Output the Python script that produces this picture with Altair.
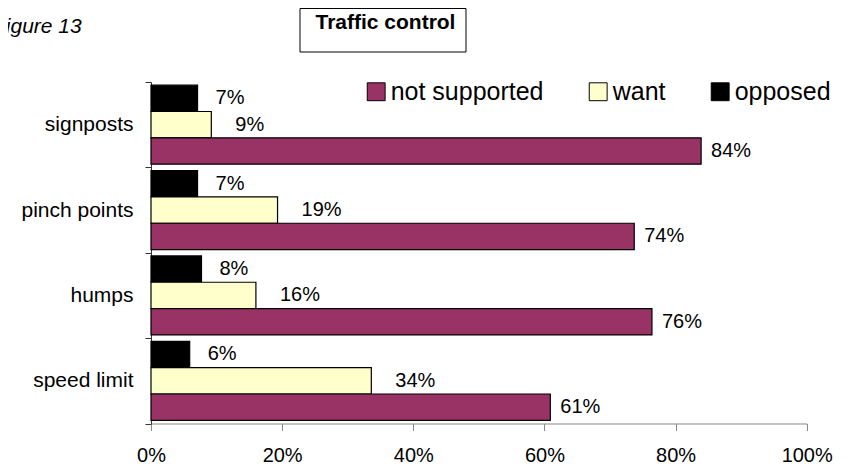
import altair as alt
import pandas as pd

categories = ["signposts", "pinch points", "humps", "speed limit"]
series = ["opposed", "want", "not supported"]
opposed = [7.1, 7.1, 7.7, 5.9]
want = [9.2, 19.3, 16.0, 33.6]
not_supported = [83.9, 73.7, 76.4, 60.9]
x_ticks = [0, 20, 40, 60, 80, 100]
legend_order = ["not supported", "want", "opposed"]
colors = ["#993366", "#FFFFCC", "#000000"]
title_text = "Traffic control"
figure_text = "Figure 13"

rows = []
for i, c in enumerate(categories):
    for s, vals in zip(series, [opposed, want, not_supported]):
        rows.append({"category": c, "series": s, "value": vals[i]})
df = pd.DataFrame(rows)

FONT = "Liberation Sans"

y_enc = alt.Y(
    "category:N",
    sort=categories,
    scale=alt.Scale(paddingInner=0, paddingOuter=0),
    axis=alt.Axis(
        title=None, tickBand="extent", ticks=True, tickSize=6,
        labelFontSize=21, labelPadding=12, labelFont=FONT, labelColor="black",
        domainColor="#333333", tickColor="#333333",
    ),
)
yoff = alt.YOffset("series:N", sort=series,
                   scale=alt.Scale(paddingInner=0, paddingOuter=0.12))
x_enc = alt.X(
    "value:Q",
    scale=alt.Scale(domain=[0, 100], nice=False, zero=True),
    axis=alt.Axis(
        title=None, values=x_ticks, labelExpr="datum.value + '%'",
        tickSize=7, labelPadding=15, labelFontSize=20, labelFont=FONT,
        labelColor="black", grid=False, labelFlush=False,
        domainColor="#888888", tickColor="#888888",
    ),
)

bars = alt.Chart(df).mark_bar(stroke="black", strokeWidth=1.2).encode(
    x=x_enc,
    y=y_enc,
    yOffset=yoff,
    color=alt.Color(
        "series:N",
        scale=alt.Scale(domain=legend_order, range=colors),
        legend=alt.Legend(
            orient="none", legendX=212.7, legendY=-3, direction="horizontal",
            title=None, symbolType="square", symbolSize=320,
            symbolStrokeColor="black", symbolStrokeWidth=1, symbolOpacity=1,
            labelFontSize=25, labelFont=FONT, labelColor="black",
            labelOffset=2, columnPadding=42, padding=0,
        ),
    ),
)

label_dx = {"opposed": 18, "want": 24, "not supported": 10}
label_layers = []
for s in series:
    lay = alt.Chart(df).transform_filter(
        alt.datum.series == s
    ).transform_calculate(
        label="format(datum.value, '.0f') + '%'"
    ).mark_text(
        align="left", baseline="middle", dx=label_dx[s], fontSize=20,
        font=FONT, color="black",
    ).encode(
        x=alt.X("value:Q"),
        y=alt.Y("category:N", sort=categories),
        yOffset=alt.YOffset("series:N", sort=series),
        text="label:N",
    )
    label_layers.append(lay)

deco = pd.DataFrame({"t": [title_text], "f": [figure_text]})
box = alt.Chart(deco).mark_rect(fill="white", stroke="black", strokeWidth=1).encode(
    x=alt.value(149), x2=alt.value(315), y=alt.value(-73.5), y2=alt.value(-30)
)
title = alt.Chart(deco).mark_text(
    fontSize=21, fontWeight="bold", font=FONT, align="center",
    baseline="alphabetic", color="black",
).encode(x=alt.value(234.5), y=alt.value(-53.5), text="t:N")
fig = alt.Chart(deco).mark_text(
    fontSize=21, fontStyle="italic", font=FONT, align="left",
    baseline="alphabetic", color="black",
).encode(x=alt.value(-158), y=alt.value(-49), text="f:N")

chart = alt.layer(bars, *label_layers, box, title, fig).properties(
    width=655.7,
    height=341.5,
    autosize=alt.AutoSizeParams(type="none"),
    padding={"left": 143, "top": 74, "right": 39, "bottom": 42},
).configure(font=FONT).configure_view(stroke=None)

chart.save("out.html", embed_options={"renderer": "svg", "actions": False})
